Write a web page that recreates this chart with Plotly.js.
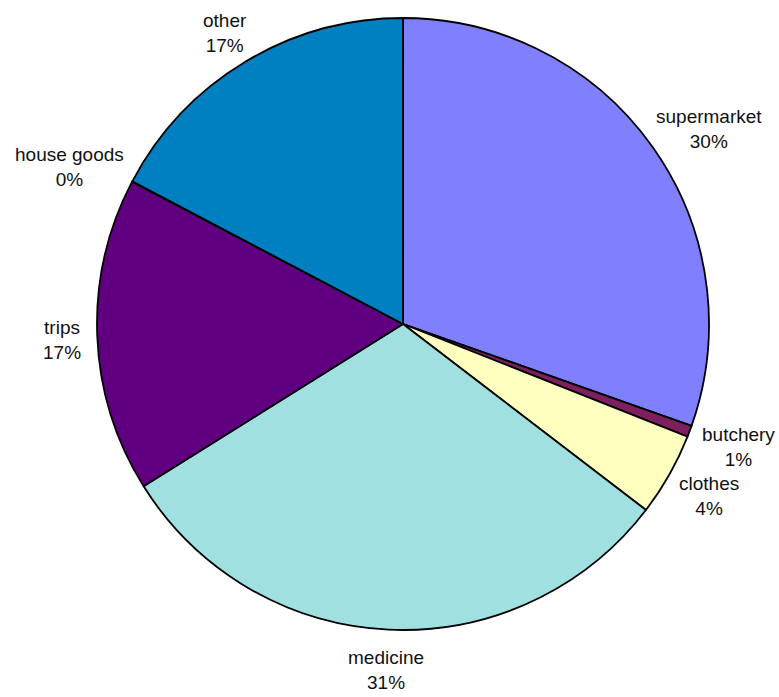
<!DOCTYPE html>
<html>
<head>
<meta charset="utf-8">
<script src="https://cdn.plot.ly/plotly-3.0.1.min.js"></script>
<style>html,body{margin:0;padding:0;background:#fff;}#chart{width:779px;height:697px;}</style>
</head>
<body>
<div id="chart"></div>
<script>
const categories = ["supermarket", "butchery", "clothes", "medicine", "trips", "house goods", "other"];
const values = [30.4, 0.6, 4.4, 30.7, 16.6, 0.02, 17.28];
const colors = ["#8080FF", "#7F1F5F", "#FFFFC0", "#A0E0E0", "#600080", "#FF8080", "#0080C0"];

const W = 779, H = 697;
const M = {l: 97, r: 70, t: 18, b: 67};
const FONT = "Liberation Sans, Arial, sans-serif";
const FSIZE = 19;

const trace = {
  type: "pie",
  labels: categories,
  values: values,
  sort: false,
  direction: "clockwise",
  rotation: 0,
  marker: {colors: colors, line: {color: "#000000", width: 1.8}},
  textinfo: "none",
  hoverinfo: "none",
  showlegend: false
};

// label placement derived from the slice mid-angles
const plotW = W - M.l - M.r, plotH = H - M.t - M.b;
const R = Math.min(plotW, plotH) / 2;
const cx = M.l + plotW / 2, cy = M.t + plotH / 2;
const total = values.reduce((a, b) => a + b, 0);
const ctx = document.createElement("canvas").getContext("2d");
ctx.font = FSIZE + "px 'Liberation Sans'";
const gap = 16, blockH = 42;
let cum = 0;
const annotations = categories.map((name, i) => {
  const frac = values[i] / total;
  const mid = (cum + frac / 2) * 2 * Math.PI;
  cum += frac;
  const ux = Math.sin(mid), uy = -Math.cos(mid);
  const pct = Math.round(frac * 100) + "%";
  const w = Math.max(ctx.measureText(name).width, ctx.measureText(pct).width);
  const px = cx + (R + gap) * ux + ux * w / 2;
  const py = cy + (R + gap) * uy + uy * blockH / 2 + 3;
  return {
    xref: "paper", yref: "paper",
    x: (px - M.l) / plotW, y: 1 - (py - M.t) / plotH,
    xanchor: "center", yanchor: "middle",
    text: name + "<br>" + pct,
    showarrow: false,
    align: "center",
    font: {family: FONT, size: FSIZE, color: "#111111"}
  };
});

const layout = {
  width: W,
  height: H,
  margin: M,
  paper_bgcolor: "#ffffff",
  showlegend: false,
  annotations: annotations
};

Plotly.newPlot("chart", [trace], layout, {displayModeBar: false, staticPlot: true});
</script>
</body>
</html>
